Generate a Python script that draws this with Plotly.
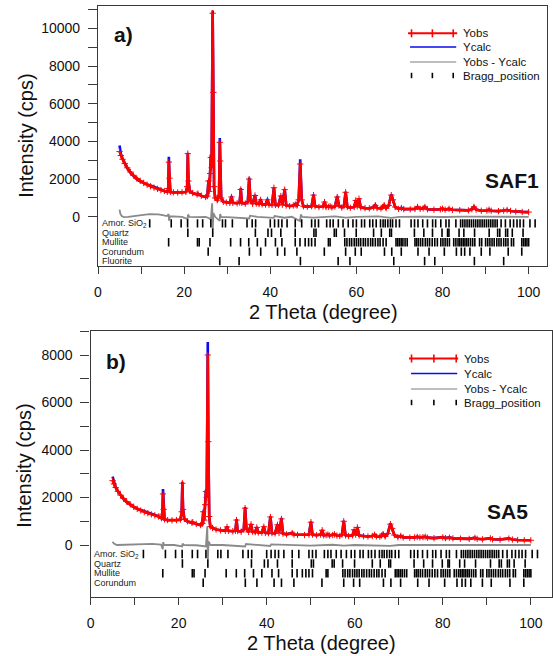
import plotly.graph_objects as go

# ---------------- DATA ----------------
# Panel a (SAF1): 2-theta, observed, calculated
tt_a = [5.0, 5.3, 5.7, 6.2, 6.8, 7.5, 8.2, 9.0, 9.8, 10.6, 11.4, 12.2, 13.0, 13.8, 14.6, 15.4, 16.1, 16.3, 16.45, 16.6,
        16.8, 17.5, 18.5, 19.5, 20.4, 20.7, 20.85, 21.0, 21.3, 22.0, 23.0, 23.2, 24.0, 25.0, 25.4, 25.65, 25.85, 26.05, 26.2, 26.38,
        26.62, 26.78, 26.95, 27.2, 27.7, 28.1, 28.28, 28.4, 28.6, 29.1, 29.8, 30.6, 31.0, 31.3, 32.3, 32.9, 33.15, 33.4, 34.2, 34.8,
        35.1, 35.4, 35.9, 36.45, 36.75, 37.4, 37.75, 38.1, 38.9, 39.35, 39.7, 40.4, 40.85, 41.2, 41.9, 42.45, 42.8, 43.35, 43.7, 44.5,
        45.35, 45.8, 46.2, 46.6, 46.95, 47.3, 47.7, 48.6, 49.6, 50.05, 50.4, 51.3, 52.25, 52.6, 52.95, 53.5, 53.9, 54.3, 55.0, 55.55,
        55.95, 56.6, 57.1, 57.5, 57.9, 58.6, 59.5, 59.85, 60.2, 60.6, 61.0, 62.0, 63.0, 64.0, 64.4, 64.8, 65.7, 66.1, 66.45, 66.9,
        67.5, 68.1, 68.5, 69.0, 69.8, 70.45, 71.0, 72.5, 73.6, 74.2, 74.8, 75.5, 75.9, 76.5, 78.0, 79.5, 80.0, 80.6, 81.5, 82.3,
        84.0, 86.0, 86.8, 87.3, 87.8, 89.0, 90.3, 90.8, 91.3, 93.0, 94.2, 95.0, 95.8, 97.0, 98.5, 100.0]
yobs_a = [3460, 3250, 3050, 2830, 2600, 2380, 2200, 2030, 1910, 1800, 1700, 1620, 1550, 1480, 1420, 1370, 1330, 1500, 2900, 2050,
          1320, 1300, 1290, 1300, 1320, 1600, 3350, 1900, 1370, 1260, 1190, 1230, 1120, 1050, 1100, 1900, 1350, 2300, 3150, 2600,
          10800, 6600, 1600, 1000, 880, 1100, 3950, 2960, 1000, 800, 760, 740, 1050, 740, 720, 760, 1450, 740, 700, 800,
          2000, 850, 690, 1130, 700, 680, 900, 660, 650, 900, 640, 630, 1540, 630, 620, 1100, 640, 1440, 600, 570,
          600, 650, 600, 900, 2800, 900, 560, 540, 560, 1150, 560, 520, 550, 780, 520, 530, 560, 500, 540, 1050,
          600, 490, 560, 1300, 520, 480, 520, 870, 560, 960, 500, 460, 450, 500, 610, 460, 440, 520, 610, 460,
          600, 1150, 900, 520, 420, 470, 410, 400, 420, 520, 420, 450, 520, 400, 380, 400, 430, 380, 420, 370,
          350, 340, 400, 520, 380, 320, 330, 380, 320, 300, 330, 360, 310, 280, 260, 250]
ycalc_a = [3780, 3350, 3080, 2850, 2580, 2340, 2150, 1990, 1880, 1790, 1720, 1660, 1600, 1530, 1450, 1370, 1320, 1480, 3180, 2100,
           1310, 1290, 1280, 1290, 1310, 1550, 3400, 1950, 1360, 1250, 1180, 1220, 1110, 1040, 1090, 1950, 1350, 2400, 3300, 2700,
           10950, 6500, 1550, 980, 880, 1200, 4180, 2900, 980, 800, 760, 740, 1100, 740, 720, 760, 1520, 740, 700, 800,
           2080, 850, 690, 1170, 700, 680, 940, 660, 650, 950, 640, 630, 1570, 630, 620, 1130, 640, 1480, 600, 570,
           590, 680, 600, 900, 3050, 900, 560, 540, 560, 1190, 560, 520, 550, 800, 520, 530, 570, 500, 540, 1100,
           600, 490, 560, 1330, 520, 480, 520, 890, 560, 980, 500, 460, 450, 500, 625, 460, 440, 520, 625, 460,
           600, 1190, 900, 520, 420, 480, 410, 400, 420, 535, 420, 450, 535, 400, 380, 400, 440, 380, 430, 370,
           350, 340, 400, 535, 380, 320, 330, 390, 320, 300, 330, 370, 310, 280, 260, 250]
tt_diff_a = [5.0, 5.2, 5.5, 6.0, 7.0, 8.0, 9.0, 10.0, 11.0, 12.0, 13.0, 14.0, 15.0, 16.0, 16.4, 16.5, 16.7, 18.0, 19.5, 20.8,
             20.9, 21.2, 23.0, 25.0, 25.7, 26.2, 26.5, 26.65, 26.8, 27.2, 28.25, 28.35, 28.6, 30.0, 33.1, 35.1, 35.3, 37.0, 40.8, 41.0,
             43.3, 45.0, 46.9, 47.1, 47.4, 50.0, 55.0, 57.5, 60.0, 65.0, 68.1, 70.0, 75.0, 80.0, 85.0, 90.0, 95.0, 100.0]
ydiff_a = [380, 150, 40, -20, 0, 40, 60, 90, 120, 140, 150, 130, 90, 40, 150, -200, 30, 10, 0, -120,
           120, 0, -20, 0, -60, -150, 720, -650, 200, 0, -220, 150, 0, -20, -60, -90, 60, 0, -60, 40,
           -50, 0, -230, 120, 0, -40, 20, -40, 0, 20, -60, 0, 10, -10, 10, 0, -10, 0]

# Panel b (SA5)
tt_b = [5.0, 5.3, 5.7, 6.2, 6.8, 7.5, 8.2, 9.0, 9.8, 10.6, 11.4, 12.2, 13.0, 13.8, 14.6, 15.4, 16.1, 16.3, 16.45, 16.6,
        16.8, 17.5, 18.5, 19.5, 20.4, 20.7, 20.85, 21.0, 21.3, 22.0, 23.0, 23.2, 24.0, 25.0, 25.4, 25.6, 25.8, 26.05, 26.2, 26.38,
        26.62, 26.75, 26.95, 27.2, 27.7, 28.5, 29.5, 30.6, 31.0, 31.3, 32.3, 32.9, 33.15, 33.4, 34.2, 34.8, 35.1, 35.4, 35.9, 36.45,
        36.75, 37.4, 37.75, 38.1, 38.9, 39.35, 39.7, 40.4, 40.85, 41.2, 41.9, 42.45, 42.8, 43.35, 43.7, 44.5, 45.8, 46.2, 47.0, 48.6,
        49.6, 50.05, 50.4, 51.3, 52.25, 52.6, 52.95, 53.5, 53.9, 54.3, 55.0, 55.4, 55.95, 56.6, 57.1, 57.5, 57.9, 58.6, 59.5, 59.85,
        60.2, 60.6, 61.0, 62.0, 63.0, 64.0, 64.5, 64.9, 65.7, 66.1, 66.45, 66.9, 67.5, 68.1, 68.5, 69.0, 69.8, 70.45, 71.0, 72.5,
        73.6, 74.2, 74.8, 75.5, 76.0, 76.5, 78.0, 80.0, 80.6, 81.5, 82.3, 84.0, 86.0, 87.3, 87.8, 89.0, 90.8, 91.3, 93.0, 95.0,
        95.8, 97.0, 98.5, 100.0]
yobs_b = [2710, 2570, 2420, 2260, 2100, 1960, 1830, 1710, 1610, 1520, 1450, 1390, 1340, 1290, 1250, 1200, 1130, 1300, 2150, 1500,
          1080, 1050, 1040, 1050, 1070, 1400, 2600, 1500, 1100, 1000, 940, 960, 890, 840, 900, 1400, 1050, 1700, 2250, 2000,
          8000, 4350, 1200, 780, 720, 650, 620, 600, 760, 600, 580, 600, 1050, 590, 560, 650, 1550, 680, 550, 870,
          560, 540, 740, 530, 520, 770, 510, 500, 1180, 500, 490, 850, 510, 1100, 480, 450, 500, 440, 430, 420,
          440, 960, 440, 410, 440, 620, 410, 420, 440, 400, 420, 450, 400, 380, 440, 1000, 410, 380, 410, 640,
          440, 740, 400, 370, 360, 380, 430, 360, 350, 400, 460, 360, 480, 880, 700, 420, 330, 380, 320, 310,
          320, 340, 320, 330, 350, 310, 290, 320, 290, 310, 280, 270, 260, 300, 260, 240, 280, 240, 230, 270,
          230, 210, 200, 200]
ycalc_b = [2880, 2650, 2440, 2260, 2080, 1930, 1800, 1690, 1600, 1530, 1470, 1420, 1370, 1320, 1270, 1210, 1120, 1300, 2360, 1550,
           1070, 1040, 1030, 1040, 1060, 1350, 2660, 1550, 1090, 990, 930, 950, 880, 830, 890, 1450, 1050, 1800, 2320, 2100,
           8550, 4300, 1150, 770, 720, 650, 620, 600, 780, 600, 580, 600, 1090, 590, 560, 650, 1600, 680, 550, 890,
           560, 540, 760, 530, 520, 800, 510, 500, 1210, 500, 490, 880, 510, 1140, 480, 450, 520, 440, 430, 420,
           440, 990, 440, 410, 440, 640, 410, 420, 450, 400, 420, 460, 400, 380, 440, 1030, 410, 380, 410, 660,
           440, 760, 400, 370, 360, 380, 440, 360, 350, 400, 470, 360, 480, 910, 700, 420, 330, 390, 320, 310,
           320, 350, 320, 330, 355, 310, 290, 330, 290, 320, 280, 270, 260, 310, 260, 240, 290, 240, 230, 280,
           230, 210, 200, 200]
tt_diff_b = [5.0, 5.3, 6.0, 8.0, 10.0, 12.0, 14.0, 16.0, 16.4, 16.5, 16.7, 19.0, 20.8, 20.9, 21.2, 24.0, 26.2, 26.5, 26.65, 26.8,
             27.2, 30.0, 35.1, 35.3, 40.8, 41.0, 45.0, 50.0, 55.0, 57.5, 60.0, 68.1, 70.0, 80.0, 90.0, 100.0]
ydiff_b = [140, 60, 0, 20, 40, 60, 50, 20, -180, 120, 0, 0, -60, 60, 0, -10, -60, 780, -600, 150,
           0, 0, -60, 40, -40, 30, 0, -30, 10, -30, 0, -40, 0, 0, 0, 0]

# Bragg reflection positions (2-theta) per phase
phase_names = ["Amor. SiO<sub>2</sub>", "Quartz", "Mullite", "Corundum", "Fluorite"]
bragg_amor = [12.0, 17.0, 19.3, 20.8, 23.1, 24.3, 26.2, 28.9, 29.6, 31.2, 34.6, 35.8, 36.6, 40.0, 41.0, 41.9, 42.7, 43.9,
              45.8, 47.3, 49.6, 50.4, 51.2, 53.1, 53.9, 54.6, 55.8, 56.9, 58.1, 59.2, 60.0, 61.2, 61.9, 63.1, 63.8, 64.6,
              65.6, 66.2, 66.7, 67.3, 67.9, 68.4, 69.2, 70.0, 72.7, 73.5, 74.3, 75.4, 76.5, 77.7, 78.4, 79.6, 80.8, 81.5,
              83.1, 84.2, 84.7, 85.2, 85.7, 86.2, 86.7, 87.2, 87.7, 88.2, 88.7, 89.2, 89.7, 90.2, 90.7, 91.2, 91.7, 92.2,
              92.7, 93.6, 94.6, 95.7, 96.5, 97.3, 98.0, 98.8, 100.3, 101.5]
bragg_quartz = [20.86, 26.64, 36.54, 39.47, 40.29, 42.45, 45.79, 50.14, 50.62, 54.87, 55.33, 57.24, 59.96, 63.99, 65.79,
                67.74, 68.14, 73.47, 75.66, 77.67, 79.88, 81.17, 81.49, 83.84, 84.95, 87.44, 90.83, 92.8, 93.3, 94.66,
                95.12, 96.2, 98.7]
bragg_mullite = [16.4, 23.1, 23.5, 26.0, 30.8, 33.1, 35.0, 37.0, 38.9, 41.2, 42.7, 45.8, 46.9, 48.1, 48.9, 49.6, 50.4,
                 53.5, 53.9, 57.3, 57.8, 58.4, 58.9, 59.5, 60.0, 60.5, 61.0, 61.6, 62.1, 62.7, 63.3, 63.8, 64.4, 65.0,
                 65.5, 66.2, 66.9, 69.2, 69.6, 70.0, 70.4, 70.8, 71.3, 71.8, 73.6, 74.0, 74.4, 74.9, 75.4, 76.0, 76.5,
                 77.0, 77.6, 78.2, 78.8, 79.6, 80.1, 80.6, 81.1, 81.6, 82.6, 83.1, 83.6, 84.0, 84.4, 84.8, 85.2, 85.6,
                 86.0, 86.5, 87.0, 87.5, 88.6, 89.1, 90.0, 90.5, 91.0, 91.5, 92.0, 92.6, 93.1, 93.6, 94.2, 94.7, 95.2,
                 96.0, 96.5, 98.4, 98.8, 99.2, 99.6, 100.0]
bragg_corundum = [25.58, 35.15, 37.78, 41.68, 43.36, 46.18, 52.55, 57.5, 59.74, 61.12, 66.52, 68.21, 70.42, 74.3,
                  76.87, 80.42, 83.22, 84.36, 85.14, 86.36, 88.99, 91.0, 95.25, 98.4]
bragg_fluorite = [28.27, 32.76, 47.0, 55.76, 58.5, 68.68, 75.84, 78.2, 87.4, 94.2]

# Axis ticks
x_ticks = [0, 20, 40, 60, 80, 100]
x_minor = [10, 30, 50, 70, 90]
ya_ticks = [0, 2000, 4000, 6000, 8000, 10000]
ya_minor = [1000, 3000, 5000, 7000, 9000, 11000]
yb_ticks = [0, 2000, 4000, 6000, 8000]
yb_minor = [1000, 3000, 5000, 7000, 9000]

legend_names = ["Yobs", "Ycalc", "Yobs - Ycalc", "Bragg_position"]

# ---------------- STYLE / LAYOUT ----------------
W, H = 553, 656
FONT = "Liberation Sans, Arial, sans-serif"
RED = "#ff0000"
BLUE = "#0a0af0"
GREY = "#8a8a8a"
LEGGREY = "#a8a8a8"
AXC = "#3a3a3a"


def px(x):
    return x / W


def py(y):
    return 1 - y / H


panels = [
    dict(xa="x", ya="y", tt=tt_a, obs=yobs_a, calc=ycalc_a, ttd=tt_diff_a, dif=ydiff_a,
         rows=[-350, -850, -1350, -1850, -2350],
         phases=[bragg_amor, bragg_quartz, bragg_mullite, bragg_corundum, bragg_fluorite]),
    dict(xa="x2", ya="y2", tt=tt_b, obs=yobs_b, calc=ycalc_b, ttd=tt_diff_b, dif=ydiff_b,
         rows=[-380, -780, -1190, -1590],
         phases=[bragg_amor, bragg_quartz, bragg_mullite, bragg_corundum]),
]

fig = go.Figure()
for p in panels:
    fig.add_trace(go.Scatter(x=p["tt"], y=p["calc"], mode="lines", name="Ycalc",
                             line=dict(color=BLUE, width=2.6), xaxis=p["xa"], yaxis=p["ya"], showlegend=False))
    fig.add_trace(go.Scatter(x=p["tt"], y=p["obs"], mode="lines+markers", name="Yobs",
                             line=dict(color=RED, width=2.6),
                             marker=dict(symbol="cross-thin", size=4.5, color=RED, line=dict(width=1, color=RED)),
                             xaxis=p["xa"], yaxis=p["ya"], showlegend=False))
    fig.add_trace(go.Scatter(x=p["ttd"], y=p["dif"], mode="lines", name="Yobs - Ycalc",
                             line=dict(color=GREY, width=1.8), xaxis=p["xa"], yaxis=p["ya"], showlegend=False))
    for row, pos in zip(p["rows"], p["phases"]):
        fig.add_trace(go.Scatter(x=pos, y=[row] * len(pos), mode="markers", name="Bragg_position",
                                 marker=dict(symbol="line-ns", size=6, color="black",
                                             line=dict(width=1.6, color="black")),
                                 xaxis=p["xa"], yaxis=p["ya"], showlegend=False))

common = dict(showline=True, mirror=True, linecolor=AXC, linewidth=1.2, showgrid=False, zeroline=False,
              ticks="outside", tickcolor=AXC, tickwidth=1.2,
              tickfont=dict(family=FONT, size=14, color="#111111"))

fig.update_layout(
    width=W, height=H, margin=dict(l=0, r=0, t=0, b=0),
    paper_bgcolor="white", plot_bgcolor="white", showlegend=False,
    xaxis=dict(common, domain=[px(94.7), px(547)], range=[0, 104.27], anchor="y",
               tickvals=x_ticks, ticklen=7, ticklabelstandoff=6,
               minor=dict(tickvals=x_minor, ticks="outside", ticklen=7, tickcolor=AXC, tickwidth=1.2)),
    yaxis=dict(common, domain=[py(266), py(5.7)], range=[-2610, 11199], anchor="x",
               tickvals=ya_ticks, tickformat="d", ticklen=9, ticklabelstandoff=5,
               minor=dict(tickvals=ya_minor, ticks="outside", ticklen=9, tickcolor=AXC, tickwidth=1.2)),
    xaxis2=dict(common, domain=[px(87.2), px(551.5)], range=[0, 104.69], anchor="y2",
                tickvals=x_ticks, ticklen=7, ticklabelstandoff=6,
                minor=dict(tickvals=x_minor, ticks="outside", ticklen=7, tickcolor=AXC, tickwidth=1.2)),
    yaxis2=dict(common, domain=[py(597), py(331)], range=[-2189, 9011], anchor="x2",
                tickvals=yb_ticks, tickformat="d", ticklen=9, ticklabelstandoff=5,
                minor=dict(tickvals=yb_minor, ticks="outside", ticklen=9, tickcolor=AXC, tickwidth=1.2)),
)

ann = []
shapes = []

# Axis titles
for (tx, ty, txt, ang) in [(322, 311.5, "2 Theta (degree)", 0), (22, 136, "Intensity (cps)", -90),
                           (320, 643, "2 Theta (degree)", 0), (20, 466, "Intensity (cps)", -90)]:
    ann.append(dict(x=px(tx), y=py(ty), xref="paper", yref="paper", text=txt, showarrow=False,
                    textangle=ang, xanchor="center", yanchor="middle",
                    font=dict(family=FONT, size=20, color="#111111")))

# Panel labels and sample names
for (tx, ty, txt) in [(120, 35, "a)"), (113, 361, "b)"), (512, 181, "SAF1"), (507.5, 511, "SA5")]:
    ann.append(dict(x=px(tx), y=py(ty), xref="paper", yref="paper", text="<b>" + txt + "</b>", showarrow=False,
                    xanchor="center", yanchor="middle", font=dict(family=FONT, size=21, color="#111111")))

# Phase row labels
for p, xl in zip(panels, [0.35, 0.3]):
    for row, name in zip(p["rows"], phase_names):
        ann.append(dict(x=xl, y=row, xref=p["xa"], yref=p["ya"], text=name, showarrow=False,
                        xanchor="left", yanchor="middle", font=dict(family=FONT, size=9, color="#222222")))

# Custom legends
leg_cfg = [
    dict(ys=[33.3, 47.0, 62.0, 75.5], x0=407, x1=456.5, marks=[410.5, 431.5, 452.5], tx=460),
    dict(ys=[358.5, 373.5, 389.0, 402.5], x0=408, x1=457.5, marks=[410.5, 433, 455.5], tx=461),
]
for cfg in leg_cfg:
    y_obs, y_calc, y_dif, y_br = cfg["ys"]
    shapes.append(dict(type="line", xref="paper", yref="paper", x0=px(cfg["x0"]), x1=px(cfg["x1"]),
                       y0=py(y_obs), y1=py(y_obs), line=dict(color=RED, width=2)))
    for m in cfg["marks"]:
        shapes.append(dict(type="line", xref="paper", yref="paper", x0=px(m), x1=px(m),
                           y0=py(y_obs - 4), y1=py(y_obs + 4), line=dict(color=RED, width=1.6)))
    shapes.append(dict(type="line", xref="paper", yref="paper", x0=px(cfg["x0"] + 2), x1=px(cfg["x1"] - 1),
                       y0=py(y_calc), y1=py(y_calc), line=dict(color=BLUE, width=1.6)))
    shapes.append(dict(type="line", xref="paper", yref="paper", x0=px(cfg["x0"] + 2), x1=px(cfg["x1"] - 1),
                       y0=py(y_dif), y1=py(y_dif), line=dict(color=LEGGREY, width=1.6)))
    for m in cfg["marks"]:
        shapes.append(dict(type="line", xref="paper", yref="paper", x0=px(m), x1=px(m),
                           y0=py(y_br - 2.7), y1=py(y_br + 2.7), line=dict(color="black", width=1.6)))
    for yy, nm in zip(cfg["ys"], legend_names):
        ann.append(dict(x=px(cfg["tx"]), y=py(yy), xref="paper", yref="paper", text=nm, showarrow=False,
                        xanchor="left", yanchor="middle", font=dict(family=FONT, size=11.5, color="#111111")))

fig.update_layout(annotations=ann, shapes=shapes)
fig.write_html("out.html")
